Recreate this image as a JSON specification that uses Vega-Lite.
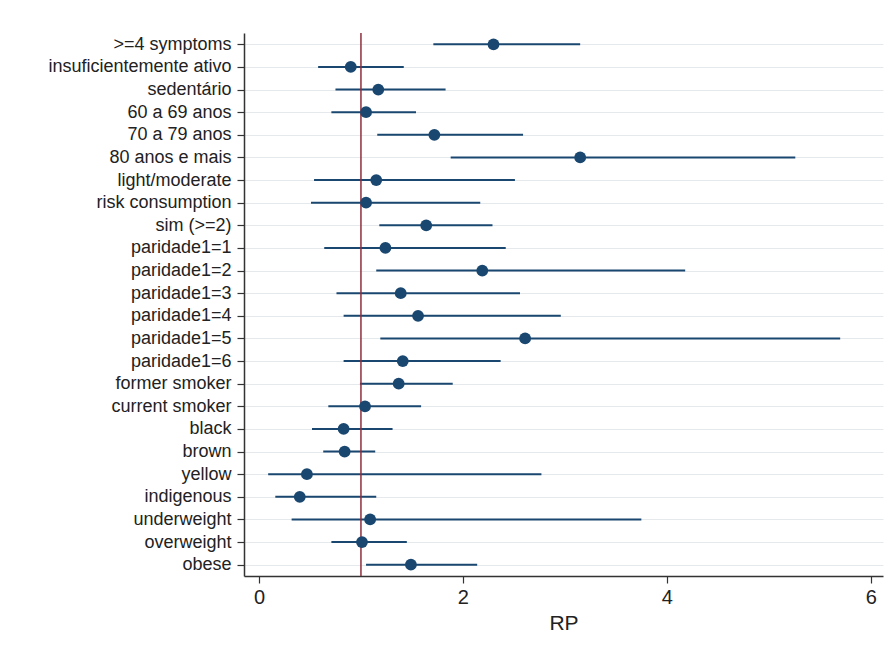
{
  "$schema": "https://vega.github.io/schema/vega-lite/v6.json",
  "autosize": {"type": "none"},
  "padding": {"left": 244, "top": 33, "right": 13, "bottom": 83},
  "width": 639,
  "height": 543,
  "background": "white",
  "config": {
    "view": {"stroke": null},
    "font": "Liberation Sans"
  },
  "datasets": {
    "est": [
      {"label": ">=4 symptoms", "rp": 2.30, "lo": 1.71, "hi": 3.15},
      {"label": "insuficientemente ativo", "rp": 0.90, "lo": 0.58, "hi": 1.42},
      {"label": "sedentário", "rp": 1.17, "lo": 0.75, "hi": 1.83},
      {"label": "60 a 69 anos", "rp": 1.05, "lo": 0.71, "hi": 1.54},
      {"label": "70 a 79 anos", "rp": 1.72, "lo": 1.16, "hi": 2.59},
      {"label": "80 anos e mais", "rp": 3.15, "lo": 1.88, "hi": 5.26},
      {"label": "light/moderate", "rp": 1.15, "lo": 0.54, "hi": 2.51},
      {"label": "risk consumption", "rp": 1.05, "lo": 0.51, "hi": 2.17},
      {"label": "sim (>=2)", "rp": 1.64, "lo": 1.18, "hi": 2.29},
      {"label": "paridade1=1", "rp": 1.24, "lo": 0.64, "hi": 2.42},
      {"label": "paridade1=2", "rp": 2.19, "lo": 1.15, "hi": 4.18},
      {"label": "paridade1=3", "rp": 1.39, "lo": 0.76, "hi": 2.56},
      {"label": "paridade1=4", "rp": 1.56, "lo": 0.83, "hi": 2.96},
      {"label": "paridade1=5", "rp": 2.61, "lo": 1.19, "hi": 5.70},
      {"label": "paridade1=6", "rp": 1.41, "lo": 0.83, "hi": 2.37},
      {"label": "former smoker", "rp": 1.37, "lo": 0.99, "hi": 1.90},
      {"label": "current smoker", "rp": 1.04, "lo": 0.68, "hi": 1.59},
      {"label": "black", "rp": 0.83, "lo": 0.52, "hi": 1.31},
      {"label": "brown", "rp": 0.84, "lo": 0.63, "hi": 1.14},
      {"label": "yellow", "rp": 0.47, "lo": 0.09, "hi": 2.77},
      {"label": "indigenous", "rp": 0.40, "lo": 0.16, "hi": 1.15},
      {"label": "underweight", "rp": 1.09, "lo": 0.32, "hi": 3.75},
      {"label": "overweight", "rp": 1.01, "lo": 0.71, "hi": 1.45},
      {"label": "obese", "rp": 1.49, "lo": 1.05, "hi": 2.14}
    ],
    "ref": [{"x": 1}]
  },
  "layer": [
    {
      "data": {"name": "est"},
      "mark": {"type": "rule", "color": "#1a476f", "strokeWidth": 2},
      "encoding": {
        "y": {
          "field": "label", "type": "nominal", "sort": null,
          "scale": {"type": "point", "padding": 0.5},
          "axis": {
            "title": null, "grid": true, "gridColor": "#e6e9ec", "gridWidth": 1,
            "domainColor": "#333333", "domainWidth": 1.5,
            "tickColor": "#333333", "tickSize": 7, "tickWidth": 1.2,
            "labelFontSize": 18, "labelColor": "#222222", "labelPadding": 6,
            "labelLimit": 400, "labelFont": "Liberation Sans"
          }
        },
        "x": {
          "field": "lo", "type": "quantitative",
          "scale": {"domain": [-0.147, 6.12], "nice": false, "zero": false},
          "axis": {
            "title": "RP", "values": [0, 2, 4, 6], "format": "d", "grid": false,
            "domainColor": "#333333", "domainWidth": 1.5,
            "tickColor": "#333333", "tickSize": 7, "tickWidth": 1.2,
            "labelFontSize": 20, "labelColor": "#222222", "labelPadding": 4,
            "titleFontSize": 21, "titleFontWeight": "normal", "titleColor": "#222222",
            "titlePadding": 5, "labelFont": "Liberation Sans", "titleFont": "Liberation Sans"
          }
        },
        "x2": {"field": "hi"}
      }
    },
    {
      "data": {"name": "ref"},
      "mark": {"type": "rule", "color": "#8e2f3d", "strokeWidth": 1.5},
      "encoding": {
        "x": {"field": "x", "type": "quantitative"}
      }
    },
    {
      "data": {"name": "est"},
      "mark": {"type": "point", "filled": true, "shape": "circle", "size": 140, "color": "#1a476f", "opacity": 1},
      "encoding": {
        "y": {"field": "label", "type": "nominal", "sort": null},
        "x": {"field": "rp", "type": "quantitative"}
      }
    }
  ]
}
